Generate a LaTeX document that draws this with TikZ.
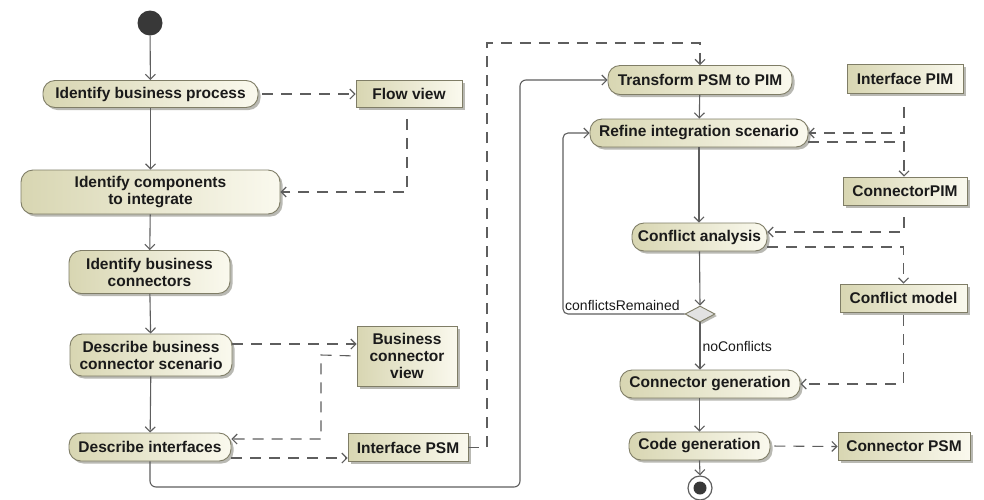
\documentclass[tikz,border=0pt]{standalone}
\usepackage{fontspec}
\setmainfont{Liberation Sans}
\usetikzlibrary{arrows.meta,shapes.geometric,shadows,calc}

\definecolor{edgegray}{HTML}{5E5E5E}
\definecolor{boxline}{HTML}{7F7D66}
\definecolor{boxleft}{HTML}{D8D6B2}
\definecolor{boxright}{HTML}{FAF9EE}
\definecolor{shadegray}{HTML}{A8A8A0}
\definecolor{inkdark}{HTML}{1A1A1A}
\definecolor{dotdark}{HTML}{383838}
\definecolor{diafill}{HTML}{E2E2E2}

\tikzset{
  boxbase/.style={draw=boxline, line width=0.9pt, left color=boxleft, right color=boxright,
    text=inkdark, font=\bfseries\fontsize{15.5}{17}\selectfont, align=center, inner sep=0pt,
    drop shadow={shadow xshift=2.5pt, shadow yshift=-2.5pt, fill=shadegray, opacity=0.8}},
  action/.style={boxbase, rectangle, rounded corners=12pt},
  objbox/.style={boxbase, rectangle},
  flowline/.style={draw=edgegray, line width=1.1pt, -{Straight Barb[length=5pt,width=10pt]}},
  depline/.style={flowline, dash pattern=on 11pt off 8pt},
  lbl/.style={font=\fontsize{14}{16}\selectfont, text=inkdark, inner sep=1pt},
}

\begin{document}
\begin{tikzpicture}[x=1pt,y=-1pt]
\useasboundingbox (0,0) rectangle (984,499);
\fill[white] (0,0) rectangle (984,499);

% ---- left column: business analysis ----
\node[circle, fill=dotdark, minimum size=25pt, inner sep=0pt] (start) at (150,23) {};
\node[action, minimum width=215pt, minimum height=27pt] (ibp) at (150.5,94) {Identify business process};
\node[objbox, minimum width=106pt, minimum height=27pt] (flow) at (409,94) {Flow view};
\node[action, minimum width=259pt, minimum height=44pt] (ici) at (150.5,192) {Identify components\\to integrate};
\node[action, minimum width=161pt, minimum height=43pt] (ibc) at (149.5,272) {Identify business\\connectors};
\node[action, minimum width=162pt, minimum height=42pt] (dbcs) at (151,355) {Describe business\\connector scenario};
\node[objbox, minimum width=100pt, minimum height=60pt] (bcv) at (407,356) {Business\\connector\\view};
\node[action, minimum width=162pt, minimum height=28pt] (di) at (150,447) {Describe interfaces};
\node[objbox, minimum width=120pt, minimum height=28pt] (ipsm) at (408,447.5) {Interface PSM};

% ---- right column: integration ----
\node[action, minimum width=184pt, minimum height=29pt] (tpp) at (700,80) {Transform PSM to PIM};
\node[objbox, minimum width=116pt, minimum height=29pt] (ipim) at (905,79) {Interface PIM};
\node[action, minimum width=218pt, minimum height=28pt] (ris) at (699,133) {Refine integration scenario};
\node[objbox, minimum width=124pt, minimum height=28pt] (cpim) at (905,191) {ConnectorPIM};
\node[action, minimum width=135pt, minimum height=28pt] (ca) at (699.5,237) {Conflict analysis};
\node[diamond, aspect=2, draw=boxline, fill=diafill, line width=0.9pt, minimum width=30pt, minimum height=16pt, inner sep=0pt,
      drop shadow={shadow xshift=2pt, shadow yshift=-2pt, fill=shadegray, opacity=0.8}] (dec) at (700,314) {};
\node[objbox, minimum width=127pt, minimum height=28pt] (cm) at (903.5,298) {Conflict model};
\node[action, minimum width=180pt, minimum height=28pt] (cg) at (710,384) {Connector generation};
\node[action, minimum width=141pt, minimum height=28pt] (codeg) at (699.5,446) {Code generation};
\node[objbox, minimum width=132pt, minimum height=28pt] (cpsm) at (904,446.5) {Connector PSM};
\node[circle, draw=edgegray, fill=white, line width=1.2pt, minimum size=24pt, inner sep=0pt] (end) at (700,488) {};
\fill[dotdark] (end.center) circle (6.5pt);

% routing points
\coordinate (psmturn) at (487,43);
\coordinate (mainturn) at (520,487);
\coordinate (loopx) at (563,314);
\coordinate (bcvturn) at (321,355);

% ---- control flow ----
\draw[flowline] (start) -- (ibp);
\draw[flowline] (ibp) -- (ici);
\draw[flowline] (ici) -- (ibc);
\draw[flowline] (ibc) -- (dbcs);
\draw[flowline] (dbcs) -- (di);
\draw[flowline, rounded corners=6pt] (di.south) |- (mainturn) |- (tpp.west);
\draw[flowline] (tpp) -- (ris);
\draw[flowline] (ris.south) -- (ris.south |- ca.north);
\draw[flowline] (ca.south) -- (dec.north);
\draw[flowline, rounded corners=5pt] (dec.west) -- (loopx) |- (ris.west);
\node[lbl, anchor=south west] at ($(loopx)+(1,-2)$) {conflictsRemained};
\draw[flowline] (dec.south) -- node[lbl, right, inner sep=2pt] {noConflicts} (dec.south |- cg.north);
\draw[flowline] (codeg.north |- cg.south) -- (codeg.north);
\draw[flowline] (codeg.south) -- (end.north);

% ---- object flows ----
\draw[depline, shorten <=4pt] (ibp.east) -- (flow.west);
\draw[depline, shorten <=11pt] ([xshift=-2pt]flow.south) |- (ici.east);
\draw[depline] ([yshift=11pt]dbcs.east) -- ([yshift=11pt]dbcs.east -| bcv.west);
\draw[depline, shorten <=6pt] (bcv.west) -- (bcvturn) |- ([yshift=8pt]di.east);
\draw[depline] ([yshift=-11pt]di.east) -- ([yshift=-11pt]di.east -| ipsm.west);
\draw[depline] (ipsm.east) -| (psmturn) -| (tpp.north);
\draw[depline, shorten <=13pt] ([xshift=-1pt]ipim.south) |- (ris.east);
\draw[depline] ([yshift=-9pt]ris.east) -| ([xshift=-1pt]cpim.north);
\draw[depline, shorten <=12pt] ([xshift=-1pt]cpim.south) |- ([yshift=5pt]ca.east);
\draw[depline] ([yshift=-10pt]ca.east) -| (cm.north);
\draw[depline, shorten <=3pt] (cm.south) |- (cg.east);
\draw[depline, shorten <=4pt] (codeg.east) -- (cpsm.west);
\end{tikzpicture}
\end{document}
